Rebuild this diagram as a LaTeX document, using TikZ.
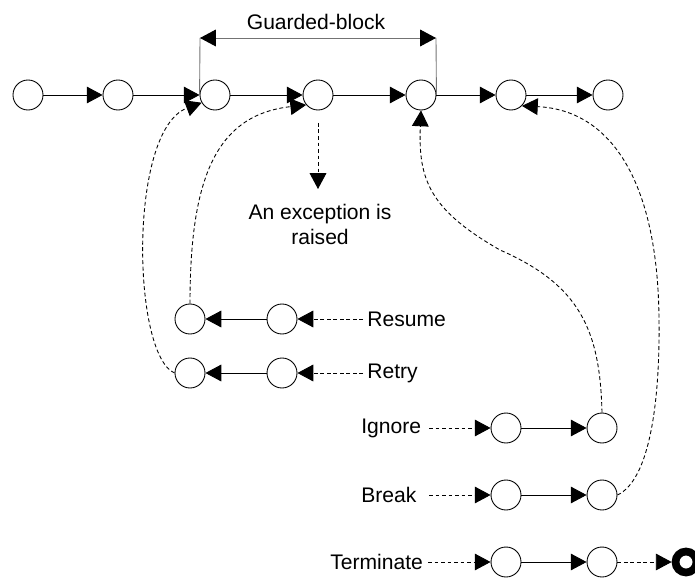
\documentclass[tikz,border=0pt]{standalone}
\usepackage{fontspec}
\setmainfont{Liberation Sans}
\usepackage{tikz}
\usetikzlibrary{arrows.meta}
\definecolor{dimgray}{gray}{0.45}
\tikzset{
  state/.style={%
    draw,
    circle,
    inner sep=0,
    minimum size=0.6cm,
    line width=0.5pt,
  },
  endstate/.style={%
    draw,
    circle,
    inner sep=0,
    minimum size=0.42cm,
    line width=4.4pt,
  },
  flow/.style={-{Triangle[length=9pt,width=9.5pt]}, line width=0.5pt},
  jump/.style={flow, dash pattern=on 2.2pt off 1.5pt},
  label text/.style={inner sep=0, font=\fontsize{12}{14.2}\selectfont},
}

\begin{document}
\begin{tikzpicture}[x=0.02cm,y=-0.02cm]
    \useasboundingbox (0,0) rectangle (695,577);
    % main flow
    \foreach \n/\x in {1/28,2/118,3/215,4/318,5/421,6/511,7/608}
        \node (g\n) [state] at (\x,95) {};
    \foreach \a/\b in {1/2,2/3,3/4,4/5,5/6,6/7}
        \draw [flow] (g\a) -- (g\b);

    % guarded block
    \coordinate (gbL) at (200,38);
    \coordinate (gbR) at (436,38);
    \node (gbtext) [label text] at (316,22) {Guarded-block};
    \draw [dimgray, line width=0.5pt] (g3.west) -- (gbL);
    \draw [dimgray, line width=0.5pt] (g5.east) -- (gbR);
    \draw [dimgray, line width=0.5pt,
           {Triangle[length=9pt,width=9.5pt,color=black]}-{Triangle[length=9pt,width=9.5pt,color=black]}]
        (gbL) -- (gbR);

    % exception
    \coordinate (exS) at (318,123);
    \coordinate (exE) at (318,189);
    \draw [jump] (exS) -- (exE);
    \node (extext) [label text, align=center] at (320,224) {An exception is\\raised};

    % resume and retry
    \node (res1) [state] at (190,319) {};
    \node (res2) [state] at (282,319) {};
    \node (ret1) [state] at (190,373) {};
    \node (ret2) [state] at (282,373) {};
    \node (restext) [label text, anchor=west] at (367,319) {Resume};
    \node (rettext) [label text, anchor=west] at (367,373) {Retry};
    \coordinate (resS) at (363,319);
    \coordinate (retS) at (363,373);
    \draw [jump] (resS) -- (res2);
    \draw [jump] (retS) -- (ret2);
    \draw [flow] (res2) -- (res1);
    \draw [flow] (ret2) -- (ret1);
    \draw [jump] (res1.north) .. controls (190,180) and (215,115) .. (g4.-140);
    \draw [jump] (ret1.west) .. controls (132,355) and (128,130) .. (g3.-150);

    % ignore, break, terminate
    \node (ign1) [state] at (506,428) {};
    \node (ign2) [state] at (602,428) {};
    \node (brk1) [state] at (506,495) {};
    \node (brk2) [state] at (602,495) {};
    \node (trm1) [state] at (506,562) {};
    \node (trm2) [state] at (602,562) {};
    \node (stop) [endstate] at (686,562) {};
    \node (igntext) [label text, anchor=west] at (361,428) {Ignore};
    \node (brktext) [label text, anchor=west] at (361,495) {Break};
    \node (trmtext) [label text, anchor=west] at (330,562) {Terminate};
    \coordinate (ignS) at (429,428);
    \coordinate (brkS) at (429,495);
    \coordinate (trmS) at (428,562);
    \draw [jump] (ignS) -- (ign1);
    \draw [jump] (brkS) -- (brk1);
    \draw [jump] (trmS) -- (trm1);
    \draw [flow] (ign1) -- (ign2);
    \draw [flow] (brk1) -- (brk2);
    \draw [flow] (trm1) -- (trm2);
    \draw [jump] (trm2) -- (stop);
    \draw [jump] (ign2.north) .. controls (600,330) and (580,285) .. (500,250)
        .. controls (430,210) and (418,180) .. (g5.south);
    \draw [jump] (brk2.east) .. controls (650,480) and (660,400) .. (659,320)
        .. controls (658,180) and (610,110) .. (g6.-45);
\end{tikzpicture}
\end{document}
